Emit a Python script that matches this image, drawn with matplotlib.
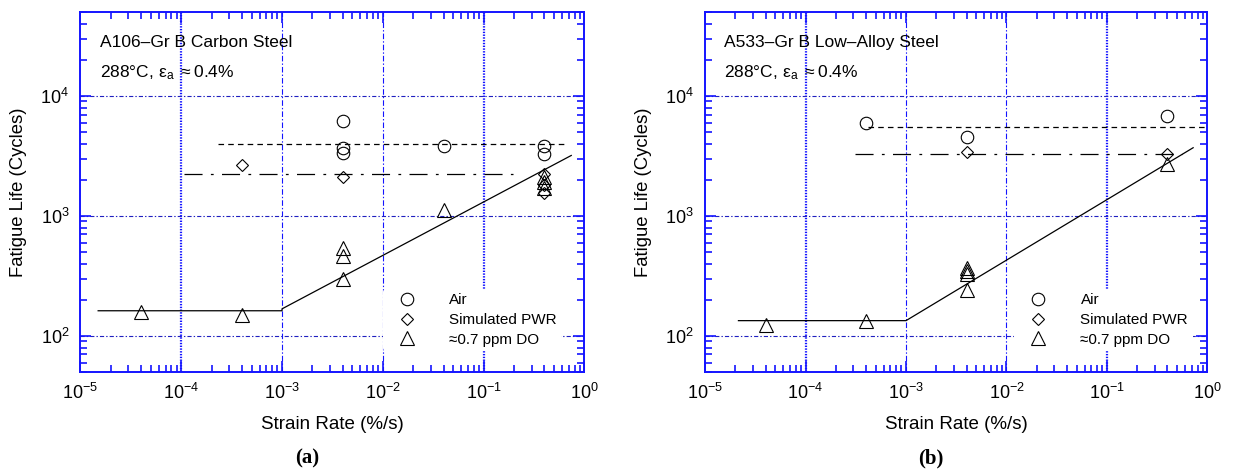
import numpy as np
import matplotlib
matplotlib.use('Agg')
import matplotlib.pyplot as plt
from matplotlib.ticker import LogLocator, FixedLocator, NullFormatter

plt.rcParams['font.family'] = ['Liberation Sans', 'DejaVu Sans']
plt.rcParams['mathtext.fontset'] = 'custom'
plt.rcParams['mathtext.rm'] = 'Liberation Sans'
plt.rcParams['mathtext.it'] = 'Liberation Sans:italic'
plt.rcParams['lines.scale_dashes'] = False

BLUE = '#1414ff'

# ---- panel (a): A106-Gr B carbon steel ----
a_air_x = [4e-3, 4e-3, 4e-3, 0.04, 0.4, 0.4]
a_air_y = [6200, 3650, 3350, 3850, 3800, 3300]
a_pwr_x = [4e-4, 4e-3, 0.4, 0.4, 0.4]
a_pwr_y = [2650, 2130, 2250, 1800, 1550]
a_do_x = [4e-5, 4e-4, 4e-3, 4e-3, 4e-3, 0.04, 0.4, 0.4, 0.4]
a_do_y = [157, 149, 540, 465, 300, 1110, 2100, 1900, 1700]
a_air_mean = ([2.3e-4, 0.65], [3980, 3980])
a_pwr_mean = ([1.06e-4, 0.195], [2220, 2220])
a_model = ([1.5e-5, 1e-3, 1e-3, 0.74], [162, 162, 168, 3190])

# ---- panel (b): A533-Gr B low-alloy steel ----
b_air_x = [4e-4, 4e-3, 0.4]
b_air_y = [5950, 4580, 6750]
b_pwr_x = [4e-3, 0.4]
b_pwr_y = [3420, 3250]
b_do_x = [4e-5, 4e-4, 4e-3, 4e-3, 4e-3, 4e-3, 0.4]
b_do_y = [123, 134, 370, 350, 330, 243, 2700]
b_air_mean = ([4.2e-4, 0.95], [5540, 5540])
b_pwr_mean = ([3.1e-4, 0.56], [3250, 3250])
b_model = ([2.15e-5, 1e-3, 0.72], [134, 134, 3700])

xticks = [1e-5, 1e-4, 1e-3, 1e-2, 1e-1, 1e0]
xtick_labels = [r'$\mathregular{10^{-5}}$', r'$\mathregular{10^{-4}}$', r'$\mathregular{10^{-3}}$',
                r'$\mathregular{10^{-2}}$', r'$\mathregular{10^{-1}}$', r'$\mathregular{10^{0}}$']
yticks = [1e2, 1e3, 1e4]
ytick_labels = [r'$\mathregular{10^{2}}$', r'$\mathregular{10^{3}}$', r'$\mathregular{10^{4}}$']


def draw_panel(ax, air, pwr, do, air_mean, pwr_mean, model, title, leg_x, tag):
    ax.set_xscale('log')
    ax.set_yscale('log')
    ax.set_xlim(1e-5, 1e0)
    ax.set_ylim(50, 5e4)

    # grid lines drawn by hand so the decade styles can differ
    for xv in xticks[1:-1]:
        if xv in (1e-4, 1e-1):
            ax.axvline(xv, color=BLUE, lw=1.6, ls=(0, (1, 1)), zorder=1)
        else:
            ax.axvline(xv, color=BLUE, lw=0.8, ls=(0, (4, 1.5, 1, 1.5)), zorder=1)
    for yv in yticks:
        ax.axhline(yv, color='#2020c0', lw=0.8, ls=(0, (3, 1.5, 1, 1.5)), zorder=1)

    ax.plot(*air_mean, color='black', lw=0.9, dashes=(4, 3), zorder=2)
    ax.plot(*pwr_mean, color='black', lw=0.9, dashes=(13, 6, 2, 6), zorder=2)
    ax.plot(*model, color='black', lw=0.9, zorder=2)

    ax.plot(air[0], air[1], 'o', ms=9, mfc='none', mec='black', mew=0.8, ls='none',
            label='Air', zorder=3)
    ax.plot(pwr[0], pwr[1], 'D', ms=6.5, mfc='none', mec='black', mew=0.8, ls='none',
            label='Simulated PWR', zorder=3)
    ax.plot(do[0], do[1], '^', ms=10, mfc='none', mec='black', mew=0.8, ls='none',
            label='\u22480.7 ppm DO', zorder=3)

    leg = ax.legend(loc='upper left', bbox_to_anchor=(leg_x, 0.232), fontsize=11,
                    frameon=True, facecolor='white', edgecolor='none', framealpha=1,
                    borderaxespad=0, borderpad=0.3, labelspacing=0.38,
                    handlelength=2.6, handletextpad=1.45, numpoints=1)
    leg.set_zorder(4)

    ax.xaxis.set_major_locator(FixedLocator(xticks))
    ax.set_xticklabels(xtick_labels)
    ax.yaxis.set_major_locator(FixedLocator(yticks))
    ax.set_yticklabels(ytick_labels)
    ax.xaxis.set_minor_locator(LogLocator(base=10, subs=np.arange(2, 10), numticks=20))
    ax.yaxis.set_minor_locator(LogLocator(base=10, subs=np.arange(2, 10), numticks=20))
    ax.xaxis.set_minor_formatter(NullFormatter())
    ax.yaxis.set_minor_formatter(NullFormatter())
    ax.tick_params(which='both', direction='in', top=True, right=True, color=BLUE,
                   labelsize=13, pad=8)
    ax.tick_params(which='major', length=8, width=1.2)
    ax.tick_params(which='minor', length=5, width=1.2)
    for s in ax.spines.values():
        s.set_color(BLUE)
        s.set_linewidth(1.4)

    ax.set_xlabel('Strain Rate (%/s)', fontsize=13.5, labelpad=9)
    ax.set_ylabel('Fatigue Life (Cycles)', fontsize=13.3)
    ax.yaxis.set_label_coords(-0.105, 0.5)
    ax.text(0.038, 0.915, title, transform=ax.transAxes, fontsize=12.5, va='center')
    ax.text(0.038, 0.833, r'288°C, $\mathregular{\epsilon_a}$ $\approx$0.4%', transform=ax.transAxes,
            fontsize=12.5, va='center')
    ax.text(0.45, -0.24, tag, transform=ax.transAxes, ha='center', va='center',
            fontsize=15, fontweight='bold', family='Liberation Serif')


fig = plt.figure(figsize=(12.33, 4.73), dpi=100)
ax1 = fig.add_axes([0.0652, 0.2135, 0.4088, 0.761])
ax2 = fig.add_axes([0.5718, 0.2135, 0.4075, 0.761])

draw_panel(ax1, (a_air_x, a_air_y), (a_pwr_x, a_pwr_y), (a_do_x, a_do_y),
           a_air_mean, a_pwr_mean, a_model, 'A106\u2013Gr B Carbon Steel', 0.60, '(a)')
draw_panel(ax2, (b_air_x, b_air_y), (b_pwr_x, b_pwr_y), (b_do_x, b_do_y),
           b_air_mean, b_pwr_mean, b_model, 'A533\u2013Gr B Low\u2013Alloy Steel', 0.615, '(b)')

fig.savefig('out.png', dpi=100)
